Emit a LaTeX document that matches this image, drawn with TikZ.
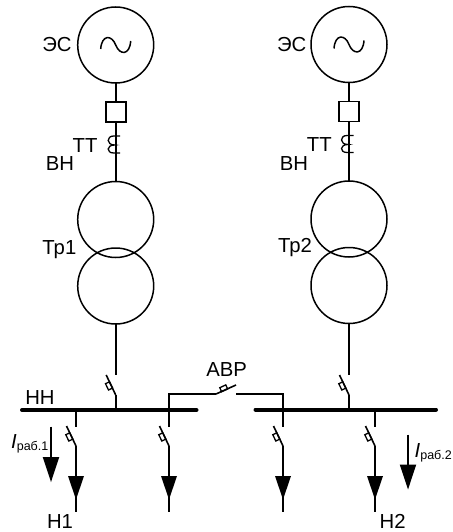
\documentclass[tikz,border=0pt]{standalone}
\usepackage{fontspec}
\setmainfont{Liberation Sans}
\tikzset{
  line/.style={draw=black,line width=1.8pt},
  bus/.style={draw=black,line width=4pt,line cap=round},
  thinring/.style={circle,draw=black,line width=1.5pt,minimum size=76pt,inner sep=0pt,outer sep=0pt},
  sq/.style={rectangle,draw=black,line width=1.8pt,minimum width=20pt,minimum height=20pt,inner sep=0pt,outer sep=0pt},
  lbl/.style={inner sep=0pt,font=\fontsize{20.3}{22}\selectfont,text=black},
  ilbl/.style={inner sep=0pt,text=black,anchor=base west},
  tip/.style={fill=black,draw=none},
  blade/.pic={
    \draw[line,line width=1.6pt] (0,0) -- (-9.5,-20);
    \draw[line,line width=1.3pt] (-3.1,-6.9) -- (-6.2,-13.2) -- (-10.2,-11.3) -- (-7.2,-5) -- cycle;
  },
  feederhead/.pic={
    \fill[tip] (-8,0) -- (8,0) -- (0,23.5) -- cycle;
  },
  curhead/.pic={
    \fill[tip] (-8.3,0) -- (8.3,0) -- (0,25) -- cycle;
  },
  sinewave/.pic={
    \draw[line,line width=1.5pt] (-15,4) .. controls (-14,-10.5) and (-4,-10.5) .. (0,0) .. controls (4,10.5) and (14,10.5) .. (15,-4);
  },
  cttr/.pic={
    \draw[line,line width=1.3pt] (4.5,-9) -- (-2,-9) .. controls (-9.5,-9) and (-9.5,0) .. (-1,0) .. controls (-9.5,0) and (-9.5,8) .. (-2,8) -- (4.5,8);
  }
}
\newcommand{\subfs}{\fontsize{12.5}{15}\selectfont}
\begin{document}
\begin{tikzpicture}[x=1pt,y=-1pt]
\useasboundingbox (0,0) rectangle (452,532);

% left chain
\node[thinring] (g1) at (115.7,45) {};
\node[sq] (q1) at (115.7,112) {};
\node[thinring] (t1a) at (115.7,219.5) {};
\node[thinring] (t1b) at (115.7,286) {};
\coordinate (s1e) at (115.7,375);
\coordinate (s1h) at (115.7,395);
\coordinate (b1a) at (22,410);
\coordinate (b1b) at (196.5,410);
\coordinate (j1) at (115.7,410);
\draw[line] (g1.south) -- (q1.north);
\draw[line] (q1.south) -- (t1a.north);
\draw[line] (t1b.south) -- (s1e);
\draw[line] (s1h) -- (j1);
\path (s1h) pic {blade};
\path (115.7,45) pic {sinewave};
\path (115.7,145) pic {cttr};
\draw[bus] (b1a) -- (b1b);

% right chain
\node[thinring] (g2) at (349,44.5) {};
\node[sq] (q2) at (349,111.5) {};
\node[thinring] (t2a) at (349,219) {};
\node[thinring] (t2b) at (349,285.5) {};
\coordinate (s2e) at (349,375);
\coordinate (s2h) at (349,395);
\coordinate (b2a) at (255.5,409.5);
\coordinate (b2b) at (436,409.5);
\coordinate (j2) at (349,409.5);
\draw[line] (g2.south) -- (q2.north);
\draw[line] (q2.south) -- (t2a.north);
\draw[line] (t2b.south) -- (s2e);
\draw[line] (s2h) -- (j2);
\path (s2h) pic {blade};
\path (349,44.5) pic {sinewave};
\path (349,144.5) pic {cttr};
\draw[bus] (b2a) -- (b2b);

% feeders
\foreach \n/\x/\y in {a/76/410,b/169/410,c/283/409.5,d/375/409.5}{
  \coordinate (f\n t) at (\x,\y);
  \coordinate (f\n m) at (\x,426.5);
  \coordinate (f\n h) at (\x,446);
  \coordinate (f\n e) at (\x,511.5);
  \draw[line] (f\n t) -- (f\n m);
  \draw[line] (f\n h) -- (f\n e);
  \path (f\n h) pic {blade};
  \path (\x,476) pic {feederhead};
}

% transfer switch
\coordinate (a1) at (169,394);
\coordinate (a2) at (216,394);
\coordinate (a3) at (236,385);
\coordinate (a4) at (236,394);
\coordinate (a5) at (283,394);
\draw[line] (fbm) -- (a1) -- (a2);
\draw[line,line width=1.6pt] (a2) -- (a3);
\draw[line] (a4) -- (a5) -- (fcm);
\draw[line,line width=1.3pt] (221.6,391.7) -- (227.6,388.9) -- (225.8,384.9) -- (219.8,387.7) -- cycle;

% current arrows
\coordinate (i1a) at (51,426.5);
\coordinate (i1b) at (51,457);
\coordinate (i2a) at (408,434.5);
\coordinate (i2b) at (408,464.5);
\draw[line] (i1a) -- (i1b);
\draw[line] (i2a) -- (i2b);
\path (i1b) pic {curhead};
\path (i2b) pic {curhead};

% labels
\node[lbl] (l1) at (57,45) {ЭС};
\node[lbl] (l2) at (85,145.5) {ТТ};
\node[lbl] (l3) at (60,164) {ВН};
\node[lbl,anchor=east] (l4) at (76.5,250) {Тр1};
\node[lbl] (l5) at (291.7,45) {ЭС};
\node[lbl] (l6) at (319.3,145) {ТТ};
\node[lbl] (l7) at (294,164) {ВН};
\node[lbl] (l8) at (295,247.5) {Тр2};
\node[lbl] (l9) at (226.7,370) {АВР};
\node[lbl] (l10) at (40,398) {НН};
\node[lbl] (l11) at (60,521.5) {Н1};
\node[lbl] (l12) at (392.7,521.5) {Н2};
\node[ilbl] (l13) at (11,448.3) {\fontsize{20.3}{22}\selectfont\itshape I\raisebox{-2pt}{\subfs\upshape раб.1}};
\node[ilbl] (l14) at (414.5,457.5) {\fontsize{20.3}{22}\selectfont\itshape I\raisebox{-2pt}{\subfs\upshape раб.2}};
\end{tikzpicture}
\end{document}
